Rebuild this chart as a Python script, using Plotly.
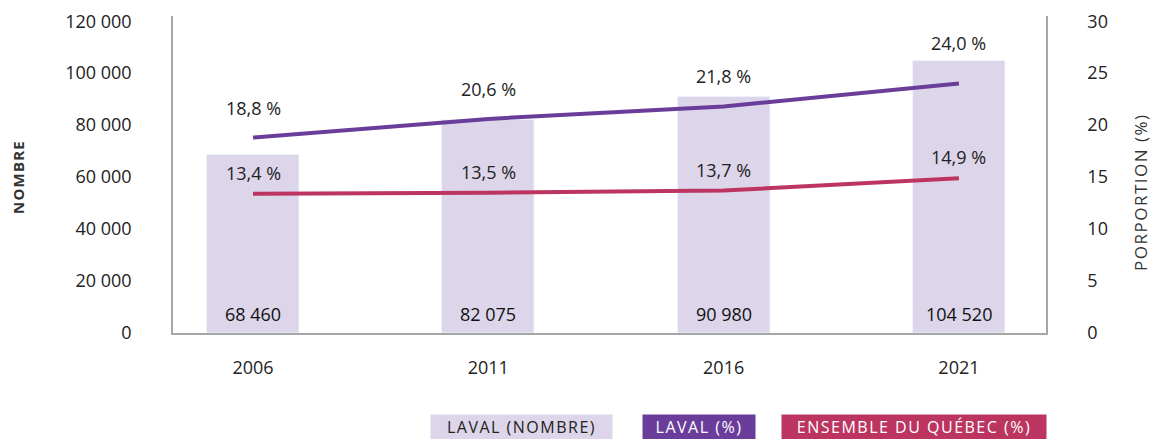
import plotly.graph_objects as go

years = ["2006", "2011", "2016", "2021"]
laval_nombre = [68460, 82075, 90980, 104520]
laval_pct = [18.8, 20.6, 21.8, 24.0]
quebec_pct = [13.4, 13.5, 13.7, 14.9]
nombre_labels = ["68 460", "82 075", "90 980", "104 520"]
laval_labels = ["18,8 %", "20,6 %", "21,8 %", "24,0 %"]
quebec_labels = ["13,4 %", "13,5 %", "13,7 %", "14,9 %"]
left_ticks = [0, 20000, 40000, 60000, 80000, 100000, 120000]
left_ticktext = ["0", "20 000", "40 000", "60 000", "80 000", "100 000", "120 000"]
right_ticks = [0, 5, 10, 15, 20, 25, 30]

BAR = "#ddd5ea"
PURPLE = "#6a3d9a"
PINK = "#bb3560"
AXIS = "#a6a6a6"
FONT = "Open Sans"
TXT = "#222222"
FS = 18

W, H = 1153, 439
ML, MR, MT, MB = 173, 107, 16, 106
pw, ph = W - ML - MR, H - MT - MB


def px_x(x):
    return (x - ML) / pw


def px_y(y):
    return (H - MB - y) / ph


fig = go.Figure()
fig.add_trace(go.Bar(x=years, y=laval_nombre, marker_color=BAR, width=0.39,
                     name="LAVAL (NOMBRE)", showlegend=False))
fig.add_trace(go.Scatter(x=years, y=laval_pct, yaxis="y2", mode="lines",
                         line=dict(color=PURPLE, width=4), showlegend=False))
fig.add_trace(go.Scatter(x=years, y=quebec_pct, yaxis="y2", mode="lines",
                         line=dict(color=PINK, width=4), showlegend=False))

ann = []
laval_shift = [30, 30, 30, 41]
for i, yr in enumerate(years):
    ann.append(dict(x=i, xref="x", y=0, yref="y", text=nombre_labels[i], showarrow=False,
                    yshift=19, font=dict(size=FS, color="#111", family=FONT)))
    ann.append(dict(x=i, xref="x", y=laval_pct[i], yref="y2", text=laval_labels[i],
                    showarrow=False, yshift=laval_shift[i],
                    font=dict(size=FS, color=TXT, family=FONT)))
    ann.append(dict(x=i, xref="x", y=quebec_pct[i], yref="y2", text=quebec_labels[i],
                    showarrow=False, yshift=21, font=dict(size=FS, color=TXT, family=FONT)))

ann.append(dict(x=px_x(18), y=px_y(177), xref="paper", yref="paper", xanchor="center",
                yanchor="middle", text='<span style="letter-spacing:1.2px"><b>NOMBRE</b></span>',
                textangle=-90, showarrow=False, font=dict(size=15, color="#333", family=FONT)))
ann.append(dict(x=px_x(1140), y=px_y(192), xref="paper", yref="paper", xanchor="center",
                yanchor="middle", text='<span style="letter-spacing:1.5px">PORPORTION (%)</span>',
                textangle=-90, showarrow=False, font=dict(size=17, color="#333", family=FONT)))

legend = [("LAVAL (NOMBRE)", BAR, "#222", 431, 612),
          ("LAVAL (%)", PURPLE, "white", 643, 755),
          ("ENSEMBLE DU QUÉBEC (%)", PINK, "white", 782, 1046)]
for text, bg, fc, x0, x1 in legend:
    ann.append(dict(x=px_x((x0 + x1) / 2), y=px_y(427), xref="paper", yref="paper",
                    xanchor="center", yanchor="middle",
                    text='<span style="letter-spacing:1.5px">' + text + '</span>',
                    showarrow=False, bgcolor=bg, width=x1 - x0 - 2, height=22,
                    borderpad=1, font=dict(size=16, color=fc, family=FONT)))

fig.update_layout(
    width=W, height=H, margin=dict(l=ML, r=MR, t=MT, b=MB, autoexpand=False),
    plot_bgcolor="white", paper_bgcolor="white",
    font=dict(family=FONT, size=FS, color=TXT),
    annotations=ann, bargap=0,
    xaxis=dict(type="category", range=[-0.34, 3.37], showgrid=False, showline=True,
               linecolor=AXIS, linewidth=1.5, ticks="", ticklabelstandoff=18, automargin=False,
               tickfont=dict(size=FS, family=FONT, color=TXT)),
    yaxis=dict(range=[0, 122000], tickvals=left_ticks, ticktext=left_ticktext, showgrid=False,
               showline=True, linecolor=AXIS, linewidth=1.5, ticks="", zeroline=False,
               ticklabelstandoff=36, automargin=False,
               tickfont=dict(size=FS, family=FONT, color=TXT)),
    yaxis2=dict(range=[0, 30.5], tickvals=right_ticks, overlaying="y", side="right",
                showgrid=False, showline=True, linecolor=AXIS, linewidth=1.5, ticks="",
                zeroline=False, ticklabelstandoff=36, automargin=False,
                tickfont=dict(size=FS, family=FONT, color=TXT)),
)

fig.write_html("out.html", config={"displayModeBar": False},
               post_script="document.body.style.margin='0';document.body.style.overflow='hidden';")
